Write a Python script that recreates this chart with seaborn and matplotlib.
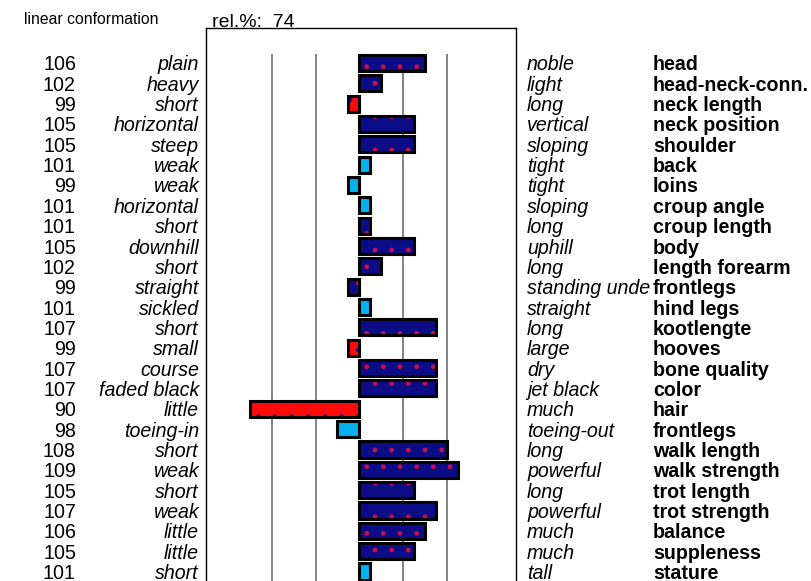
import numpy as np
import pandas as pd
import matplotlib
matplotlib.use('Agg')
import matplotlib.pyplot as plt
import seaborn as sns
from matplotlib.transforms import Bbox, TransformedBbox

# ---- data ----
traits = ['head', 'head-neck-conn.', 'neck length', 'neck position', 'shoulder',
          'back', 'loins', 'croup angle', 'croup length', 'body', 'length forearm',
          'frontlegs', 'hind legs', 'kootlengte', 'hooves', 'bone quality', 'color',
          'hair', 'frontlegs', 'walk length', 'walk strength', 'trot length',
          'trot strength', 'balance', 'suppleness', 'stature']
low_words = ['plain', 'heavy', 'short', 'horizontal', 'steep', 'weak', 'weak',
             'horizontal', 'short', 'downhill', 'short', 'straight', 'sickled',
             'short', 'small', 'course', 'faded black', 'little', 'toeing-in',
             'short', 'weak', 'short', 'weak', 'little', 'little', 'short']
high_words = ['noble', 'light', 'long', 'vertical', 'sloping', 'tight', 'tight',
              'sloping', 'long', 'uphill', 'long', 'standing under', 'straight',
              'long', 'large', 'dry', 'jet black', 'much', 'toeing-out', 'long',
              'powerful', 'long', 'powerful', 'much', 'much', 'tall']
values = [106, 102, 99, 105, 105, 101, 99, 101, 101, 105, 102, 99, 101, 107,
          99, 107, 107, 90, 98, 108, 109, 105, 107, 106, 105, 101]
# bar class: n = navy (dotted), r = red (dotted), b = light blue
bar_class = ['n', 'n', 'r', 'n', 'n', 'b', 'b', 'b', 'n', 'n', 'n', 'n', 'b',
             'n', 'r', 'n', 'n', 'r', 'b', 'n', 'n', 'n', 'n', 'n', 'n', 'b']
base_value = 100
grid_values = [92, 96, 104, 108]
reliability = 74

NAVY = '#0c0c86'
RED = '#ff0a0a'
BLUE = '#00b0f0'
face_map = {'n': NAVY, 'r': RED, 'b': BLUE}
dot_map = {'n': '#c8104a', 'r': '#14148c', 'b': None}

sns.set_style('white')
plt.rcParams['font.family'] = ['Liberation Sans', 'DejaVu Sans']
plt.rcParams['text.color'] = 'black'

keys = [f'r{i:02d}' for i in range(len(values))]
df = pd.DataFrame({'key': keys, 'dev': np.array(values) - base_value,
                   'cls': bar_class})

W, H = 811, 581
fig = plt.figure(figsize=(W / 100, H / 100), dpi=100)
ax = fig.add_axes([206 / W, -0.03, 310 / W, 1 - 28 / H + 0.03])

# filled bars with dot pattern
palette = {k: face_map[c] for k, c in zip(keys, bar_class)}
sns.barplot(data=df, x='dev', y='key', hue='key', palette=palette, orient='h',
            width=0.8, errorbar=None, legend=False, saturation=1, ax=ax, zorder=2)
for p in ax.patches:
    row = int(round(p.get_y() + p.get_height() / 2))
    dot = dot_map[bar_class[row]]
    p.set_linewidth(0)
    if dot is not None:
        p.set_edgecolor(dot)
        p.set_hatch('.')
    else:
        p.set_edgecolor(face_map['b'])
n_fill = len(ax.patches)

# black outlines
sns.barplot(data=df, x='dev', y='key', orient='h', width=0.8, errorbar=None,
            color='black', saturation=1, ax=ax, zorder=3)
for p in ax.patches[n_fill:]:
    p.set_facecolor('none')
    p.set_edgecolor('black')
    p.set_linewidth(2.2)

# vertical reference lines
ax.vlines(np.array(grid_values) - base_value, -0.45, len(values) + 1,
          color='#7a7a7a', linewidth=1.3, zorder=1)

ax.set_xlim(-14, 14.3)
ax.set_ylim(26.33, -1.72)
ax.set_xticks([])
ax.set_yticks([])
ax.set_xlabel('')
ax.set_ylabel('')
for s in ['left', 'top', 'right']:
    ax.spines[s].set_visible(True)
    ax.spines[s].set_color('black')
    ax.spines[s].set_linewidth(1.0)
ax.spines['bottom'].set_visible(False)

# row labels
trans = ax.get_yaxis_transform()
fs = 14.1
clip = TransformedBbox(Bbox([[0, 0], [650 / W, 1]]), fig.transFigure)
for i in range(len(values)):
    fig.text((76 - 206) / 310, i, str(values[i]), transform=trans, ha='right',
             va='center_baseline', fontsize=fs, zorder=3)
    fig.text((199 - 206) / 310, i, low_words[i], transform=trans, ha='right',
             va='center_baseline', fontsize=fs, style='italic', zorder=3)
    t = fig.text((527 - 206) / 310, i, high_words[i], transform=trans,
                 ha='left', va='center_baseline', fontsize=fs,
                 style='italic', zorder=1)
    t.set_clip_box(clip)
    t.set_clip_on(True)
    if len(high_words[i]) > 11:
        # long wording is cut off by the trait name, as in the original
        fig.text((653 - 206) / 310, i, traits[i], transform=trans, ha='left',
                 va='center_baseline', fontsize=fs, fontweight='bold',
                 zorder=2, bbox=dict(boxstyle='square,pad=0.1', fc='white',
                                     ec='none'))
    else:
        fig.text((653 - 206) / 310, i, traits[i], transform=trans, ha='left',
                 va='center_baseline', fontsize=fs, fontweight='bold',
                 zorder=3)

fig.text(24 / W, 1 - 20 / H, 'linear conformation', fontsize=11.3, va='center')
fig.text(212 / W, 1 - 27 / H, f'rel.%:  {reliability}', fontsize=14,
         va='baseline')

fig.savefig('out.png', dpi=100)
